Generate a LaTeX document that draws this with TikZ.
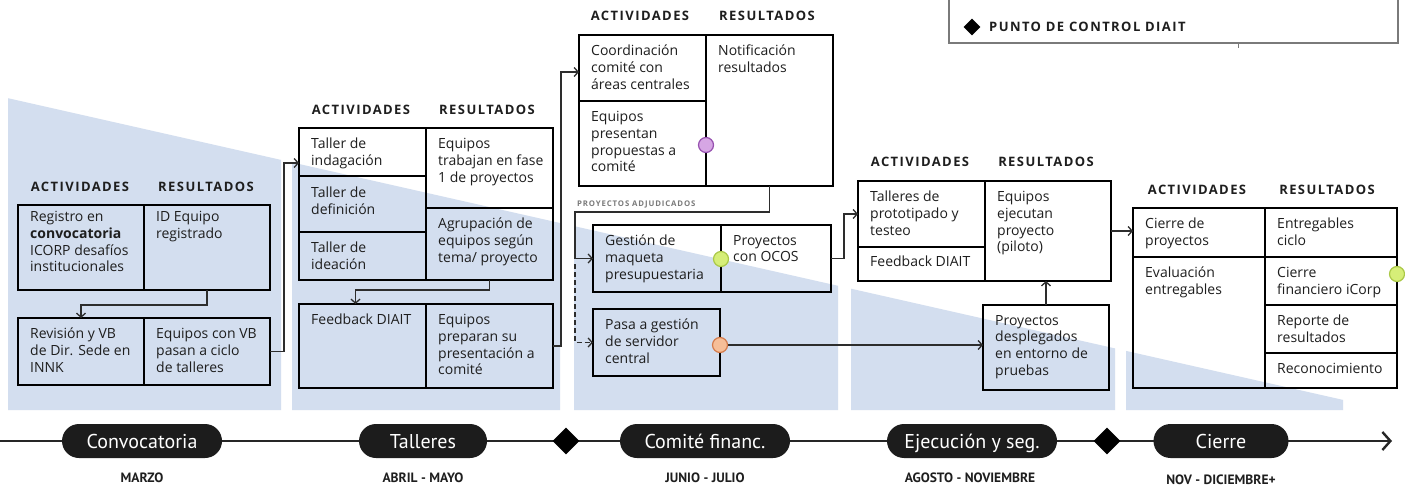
\documentclass[tikz,border=0pt]{standalone}
\usepackage{fontspec}
\setmainfont{Open Sans}
\newfontfamily\pillfont{PT Sans}
\newfontfamily\hdrfont{Open Sans}[LetterSpace=11]
\usetikzlibrary{arrows.meta,shapes.geometric,calc}
\definecolor{bgblue}{RGB}{211,222,239}
\definecolor{txt}{RGB}{30,30,30}
\definecolor{conn}{RGB}{45,45,45}
\definecolor{legendgray}{RGB}{122,122,122}
\definecolor{pillblack}{RGB}{28,28,28}
\definecolor{purpleL}{RGB}{214,166,228}
\definecolor{purpleD}{RGB}{150,80,175}
\definecolor{greenL}{RGB}{214,238,120}
\definecolor{greenD}{RGB}{170,200,70}
\definecolor{orangeL}{RGB}{246,190,152}
\definecolor{orangeD}{RGB}{212,122,74}
\newcommand{\mkcell}[7]{%
  \node[cellbox, minimum width={#4-#2}, minimum height={#5-#3}] (#1) at (#2,#3) {};
  \node[celltext] (#1t) at ($(#1.north west)+(12,#6)$) {#7};}
\begin{document}
\begin{tikzpicture}[x=1pt,y=-1pt,
  cellbox/.style={draw=black, line width=1.4pt, inner sep=0pt, outer sep=0pt, anchor=north west},
  celltext/.style={anchor=north west, inner sep=0pt, align=left, text=txt, font=\fontsize{14}{16.8}\selectfont},
  hdr/.style={inner sep=0pt, text=txt, font=\hdrfont\bfseries\fontsize{13}{15}\selectfont},
  arr/.style={draw=conn, line width=1.3pt, -{Straight Barb[length=4pt,width=9pt]}},
  dot/.style={circle, inner sep=0pt, minimum size=15pt, line width=1.2pt},
  pill/.style={rounded corners=17pt, fill=pillblack, text=white, minimum height=34pt, inner sep=0pt, text height=14pt, text depth=0pt, font=\pillfont\fontsize{20}{24}\selectfont},
  month/.style={inner sep=0pt, text=txt, text height=9.5pt, text depth=0pt, font=\pillfont\bfseries\fontsize{13.5}{16}\selectfont},
  diam/.style={diamond, fill=black, inner sep=0pt, minimum size=27pt},
  bgpanel/.style={fill=bgblue, draw=none}
]
\useasboundingbox (0,0) rectangle (1405,489);
\fill[white] (0,0) rectangle (1405,489);
% background panels
\path[bgpanel] (8,98.2) -- (281,159.9) -- (281,410) -- (8,410) -- cycle;
\path[bgpanel] (292,162.4) -- (560,223) -- (560,410) -- (292,410) -- cycle;
\path[bgpanel] (574,226.1) -- (838,285.8) -- (838,410) -- (574,410) -- cycle;
\path[bgpanel] (851,288.7) -- (1115,348.4) -- (1115,410) -- (851,410) -- cycle;
\path[bgpanel] (1126,350.9) -- (1343,399.9) -- (1343,410) -- (1126,410) -- cycle;

% legend
\node[draw=legendgray, line width=2pt, fill=white, inner sep=0pt, anchor=north west, minimum width=449pt, minimum height=52pt] (leg) at (948,-10) {};
\node[diam, minimum size=17pt] (legd) at (972,27) {};
\node[hdr, anchor=west, font=\hdrfont\bfseries\fontsize{13}{15}\selectfont] (legt) at (989,27) {PUNTO DE CONTROL DIAIT};
\draw[legendgray, line width=1pt] (leg.south -| 1238,0) -- ++(0,4);

% headers
\node[hdr] (h1a) at (80,187) {ACTIVIDADES};
\node[hdr] (h1b) at (206,187) {RESULTADOS};
\node[hdr] (h2a) at (361,110) {ACTIVIDADES};
\node[hdr] (h2b) at (487,110) {RESULTADOS};
\node[hdr] (h3a) at (640,16) {ACTIVIDADES};
\node[hdr] (h3b) at (767,16) {RESULTADOS};
\node[hdr] (h4a) at (920,162) {ACTIVIDADES};
\node[hdr] (h4b) at (1046,162) {RESULTADOS};
\node[hdr] (h5a) at (1197,190) {ACTIVIDADES};
\node[hdr] (h5b) at (1327,190) {RESULTADOS};

% panel 1
\mkcell{ba}{18}{205}{144}{290}{6}{Registro en\\\textbf{convocatoria}\\ICORP desafíos\\institucionales}
\mkcell{bb}{144}{205}{270}{290}{6}{ID Equipo\\registrado}
\mkcell{bc}{18}{318}{144}{385}{10}{Revisión y VB\\de Dir. Sede en\\INNK}
\mkcell{bd}{144}{318}{270}{385}{10}{Equipos con VB\\pasan a ciclo\\de talleres}
% panel 2
\mkcell{ta}{299}{128}{426}{176}{10}{Taller de\\indagación}
\mkcell{tb}{299}{176}{426}{232}{11}{Taller de\\definición}
\mkcell{tc}{299}{232}{426}{280}{10}{Taller de\\ideación}
\mkcell{td}{426}{128}{553}{208}{10}{Equipos\\trabajan en fase\\1 de proyectos}
\mkcell{te}{426}{208}{553}{280}{10}{Agrupación de\\equipos según\\tema/ proyecto}
\mkcell{tf}{299}{304}{426}{388}{10}{Feedback DIAIT}
\mkcell{tg}{426}{304}{553}{388}{10}{Equipos\\preparan su\\presentación a\\comité}
% panel 3
\mkcell{ca}{579}{35}{706}{101}{10}{Coordinación\\comité con\\áreas centrales}
\mkcell{cb}{579}{101}{706}{186}{10}{Equipos\\presentan\\propuestas a\\comité}
\mkcell{cc}{706}{35}{833}{186}{10}{Notificación\\resultados}
\mkcell{ga}{593}{225}{721}{292}{10}{Gestión de\\maqueta\\presupuestaria}
\mkcell{gb}{721}{225}{831}{292}{10}{Proyectos\\con OCOS}
\mkcell{pa}{593}{309}{720}{376}{10}{Pasa a gestión\\de servidor\\central}
\node[anchor=west, inner sep=0pt, text=legendgray, font=\hdrfont\bfseries\fontsize{7.8}{9}\selectfont] (adj) at (577,204) {PROYECTOS ADJUDICADOS};
% panel 4
\mkcell{ea}{858}{181}{985}{247}{10}{Talleres de\\prototipado y\\testeo}
\mkcell{eb}{858}{247}{985}{281}{9}{Feedback DIAIT}
\mkcell{ec}{985}{181}{1111}{281}{10}{Equipos\\ejecutan\\proyecto\\(piloto)}
\mkcell{da}{983}{305}{1109}{390}{10}{Proyectos\\desplegados\\en entorno de\\pruebas}
% panel 5
\mkcell{ka}{1133}{208}{1265}{257}{10}{Cierre de\\proyectos}
\mkcell{kb}{1133}{257}{1265}{388}{10}{Evaluación\\entregables}
\mkcell{sa}{1265}{208}{1397}{257}{10}{Entregables\\ciclo}
\mkcell{sb}{1265}{257}{1397}{305}{10}{Cierre\\financiero iCorp}
\mkcell{sc}{1265}{305}{1397}{353}{10}{Reporte de\\resultados}
\mkcell{sd}{1265}{353}{1397}{388}{10}{Reconocimiento}

% connectors
\coordinate (j1) at (284,163);
\coordinate (j2) at (561,72);
\coordinate (j3) at (575,212);
\coordinate (j4) at (575,264);
\draw[arr] (bb.south) -- ++(0,15) -| (bc.north);
\draw[arr] (bd.east) -| (j1) -- (j1 -| ta.west);
\draw[arr] (te.south) -- ++(0,10) -| ([xshift=-7pt]tf.north);
\draw[arr] (tg.east) -| (j2) -- (j2 -| ca.west);
\draw[arr] (cc.south) |- (j3) |- (ga.west);
\draw[arr, dash pattern=on 5pt off 3pt] (j4) |- (pa.west);
\coordinate (oc) at (720,345);
\draw[arr] (oc) -- (oc -| da.west);
\draw[arr] (gb.east) -- ++(13,0) |- (ea.west);
\draw[arr] (da.north) -- (da.north |- ec.south);
\draw[arr] (ec.east) -- (ec.east -| ka.west);

% status dots
\node[dot, draw=purpleD, fill=purpleL] (pc) at (706,145) {};
\node[dot, draw=greenD, fill=greenL] (gc1) at (721,259) {};
\node[dot, draw=greenD, fill=greenL] (gc2) at (1397,274) {};
\node[dot, draw=orangeD, fill=orangeL] (occ) at (oc) {};

% timeline
\coordinate (t0) at (0,441);
\coordinate (tE) at (1392,441);
\draw[line width=2.4pt, draw=black!85, -{Straight Barb[length=8pt,width=18pt]}] (t0) -- (tE);
\node[pill, minimum width=160pt] (m1) at (142,441) {Convocatoria};
\node[pill, minimum width=128pt] (m2) at (423,441) {Talleres};
\node[pill, minimum width=170pt] (m3) at (705,441) {Comité financ.};
\node[pill, minimum width=170pt] (m4) at (972,441) {Ejecución y seg.};
\node[pill, minimum width=135pt] (m5) at (1221,441) {Cierre};
\node[diam] (k1) at (566,441) {};
\node[diam] (k2) at (1107,441) {};
\node[month] (mo1) at (142,478) {MARZO};
\node[month] (mo2) at (423,478) {ABRIL - MAYO};
\node[month] (mo3) at (705,478) {JUNIO - JULIO};
\node[month] (mo4) at (970,478) {AGOSTO - NOVIEMBRE};
\node[month] (mo5) at (1221,480) {NOV - DICIEMBRE+};
\end{tikzpicture}
\end{document}
